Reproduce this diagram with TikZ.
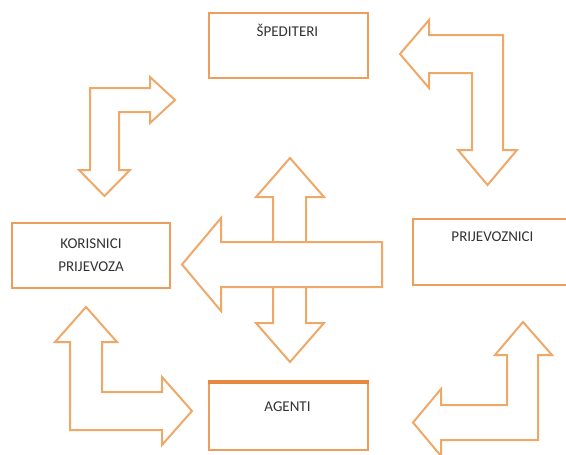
\documentclass[tikz,border=0pt]{standalone}
\usepackage{fontspec}
\setmainfont{Carlito}
\usepackage{tikz}
\usetikzlibrary{calc}
\definecolor{boxorange}{RGB}{238,158,92}
\definecolor{arrorange}{RGB}{240,168,105}
\definecolor{topline}{RGB}{232,135,65}
\tikzset{
  box/.style={draw=boxorange, line width=2.4pt, fill=white, minimum width=159pt, minimum height=65pt, inner sep=0pt},
  boxtext/.style={anchor=base, text=black!80, font=\fontsize{15}{23}\selectfont, inner sep=0pt},
  blockarrow/.style={draw=arrorange, line width=2pt, fill=white, line join=miter}
}
\begin{document}
\begin{tikzpicture}[x=1pt, y=-1pt]
			\useasboundingbox (0,0) rectangle (566,455);
			%%%%% START %%%%%
			\node[box] (spd) at (288.5, 45.5) {};
			\node[boxtext] (spdtxt) at ($(spd.north)+(-1,25)$) {ŠPEDITERI};
			
			\node[box, minimum width=158pt, align=center, font=\fontsize{15}{23}\selectfont, text=black!80] (kor) at (91, 255.5) {KORISNICI\\PRIJEVOZA};
			
			\node[box, minimum height=66pt] (prv) at (492.5, 252) {};
			\node[boxtext] (prvtxt) at ($(prv.north)+(0,24)$) {PRIJEVOZNICI};
			
			\node[box, minimum height=67pt] (agt) at (288.5, 416.5) {};
			\draw[topline, line width=4pt] (agt.north west) -- (agt.north east);
			\node[boxtext] (agttxt) at ($(agt.north)+(-1,30)$) {AGENTI};
			
			% top left
			\draw[blockarrow] (90,88) -- (150,88) -- (150,77) -- (175,100) -- (150,123) -- (150,112)
				-- (119,112) -- (119,170) -- (130,170) -- (104.5,196) -- (79,170) -- (90,170) -- cycle;
			
			% top right
			\draw[blockarrow] (503,35) -- (429,35) -- (429,20) -- (400,54) -- (429,88) -- (429,73)
				-- (472,73) -- (472,150) -- (458,150) -- (487.5,185) -- (517,150) -- (503,150) -- cycle;
			
			% middle
			\draw[blockarrow] (273,197) -- (256,197) -- (290,158) -- (324,197) -- (306,197) -- (306,323)
				-- (324,323) -- (290,362) -- (256,323) -- (273,323) -- cycle;
			\draw[blockarrow] (382,242) -- (221,242) -- (221,218) -- (182,264.5) -- (221,311) -- (221,287)
				-- (382,287) -- cycle;
			
			% bottom left
			\draw[blockarrow] (70,430) -- (70,342) -- (55,342) -- (86,307) -- (117,342) -- (102,342)
				-- (102,392) -- (162,392) -- (162,377) -- (192,411) -- (162,445) -- (162,430) -- cycle;
			
			% bottom right
			\draw[blockarrow] (538,440) -- (538,355) -- (552,355) -- (523,322) -- (495,355) -- (507,355)
				-- (507,405) -- (441,405) -- (441,389) -- (413,422.5) -- (441,456) -- (441,440) -- cycle;
			%%%%% END %%%%%
		\end{tikzpicture}
\end{document}
